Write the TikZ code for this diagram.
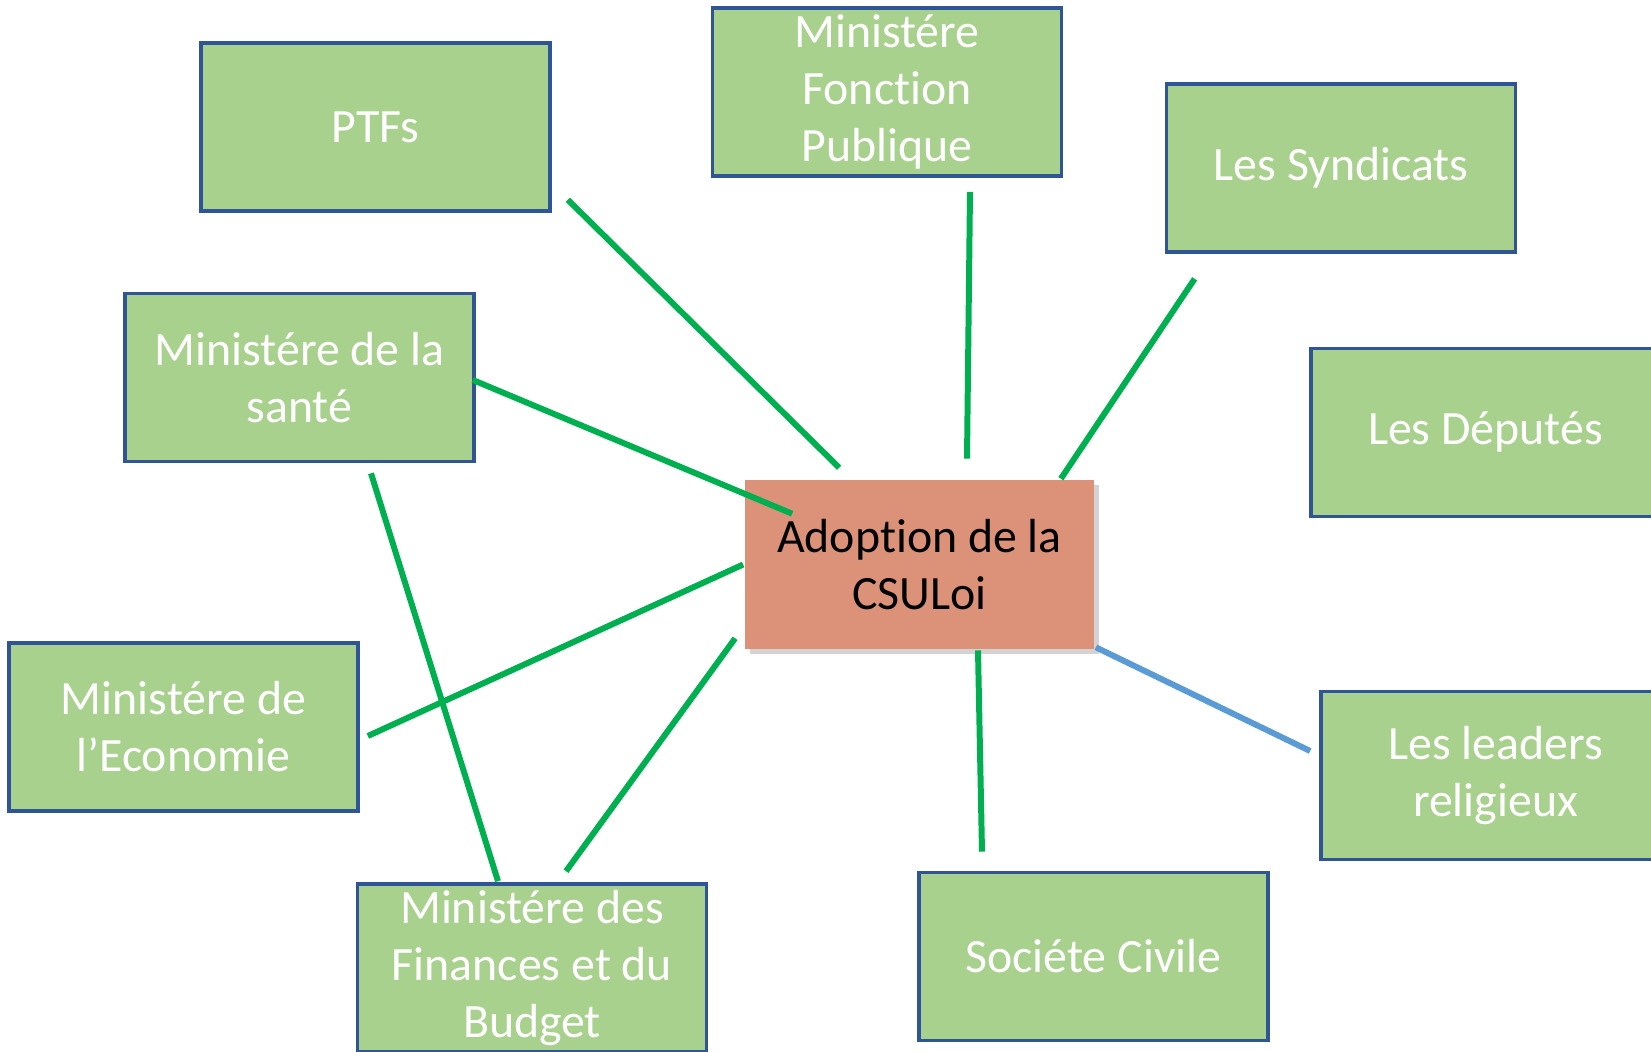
\documentclass[tikz,border=0pt]{standalone}
\usepackage{fontspec}
\setmainfont{Carlito}[Ligatures=NoCommon]
\usetikzlibrary{shadows}

\definecolor{boxgreen}{HTML}{A9D18E}
\definecolor{boxedge}{HTML}{2F5597}
\definecolor{csubox}{HTML}{DC9278}
\definecolor{linkgreen}{HTML}{00B050}
\definecolor{linkblue}{HTML}{5B9BD5}

\tikzset{
    actor/.style={rectangle, fill=boxgreen, draw=boxedge, line width=1pt,
        minimum width=3.49cm, minimum height=1.68cm, inner sep=0pt,
        align=center, text=white, font=\fontsize{13.6pt}{16.2pt}\selectfont},
    goal/.style={actor, fill=csubox, draw=none, text=black,
        drop shadow={shadow xshift=.5mm, shadow yshift=-.5mm, opacity=.35}},
    link/.style={linkgreen, line width=1.7pt},
}

\begin{document}
\begin{tikzpicture}[x=0.01cm, y=-0.01cm]
    \clip (0,0) rectangle (1651,1052);
    \useasboundingbox (0,0) rectangle (1651,1052);

    \node[actor] (ptfs) at (375.5,127) {PTFs};
    \node[actor] (fonction) at (887,92) {Ministére\\Fonction\\Publique};
    \node[actor] (syndicats) at (1341,168) {Les Syndicats};
    \node[actor] (sante) at (299.5,377.5) {Ministére de la\\santé};
    \node[actor] (deputes) at (1485.5,432.5) {Les Députés};
    \node[actor] (eco) at (183.5,727) {Ministére de\\l’Economie};
    \node[actor] (leaders) at (1495.5,775.5) {Les leaders\\religieux};
    \node[actor] (finances) at (532,968) {Ministére des\\Finances et du\\Budget};
    \node[actor] (civile) at (1093.5,956.5) {Sociéte Civile};

    \node[goal] (csu) at (919.5,564.5) {Adoption de la\\CSULoi};

    % lines to the centre box
    \draw[link] ([shift={(16,-13)}]ptfs.south east) -- ([shift={(96,-11)}]csu.north west);
    \draw[link] ([shift={(83,14)}]fonction.south) -- ([shift={(47.5,-20)}]csu.north);
    \draw[link] ([shift={(30,25)}]syndicats.south west) -- ([shift={(-35,0)}]csu.north east);
    \draw[link] ([shift={(-3,2.5)}]sante.east) -- ([shift={(49,35)}]csu.north west);
    \draw[link] ([shift={(8,9)}]eco.east) -- (csu.west);
    \draw[link] ([shift={(71.5,10)}]sante.south) -- ([shift={(-34,-1)}]finances.north);
    \draw[link] ([shift={(34,-11)}]finances.north) -- ([shift={(-8,-12)}]csu.south west);
    \draw[link] ([shift={(58.5,0)}]csu.south) -- ([shift={(-111.5,-19)}]civile.north);
    \draw[link, linkblue] ([shift={(0,-3)}]csu.south east) -- ([shift={(-9,-24.5)}]leaders.west);
\end{tikzpicture}
\end{document}
